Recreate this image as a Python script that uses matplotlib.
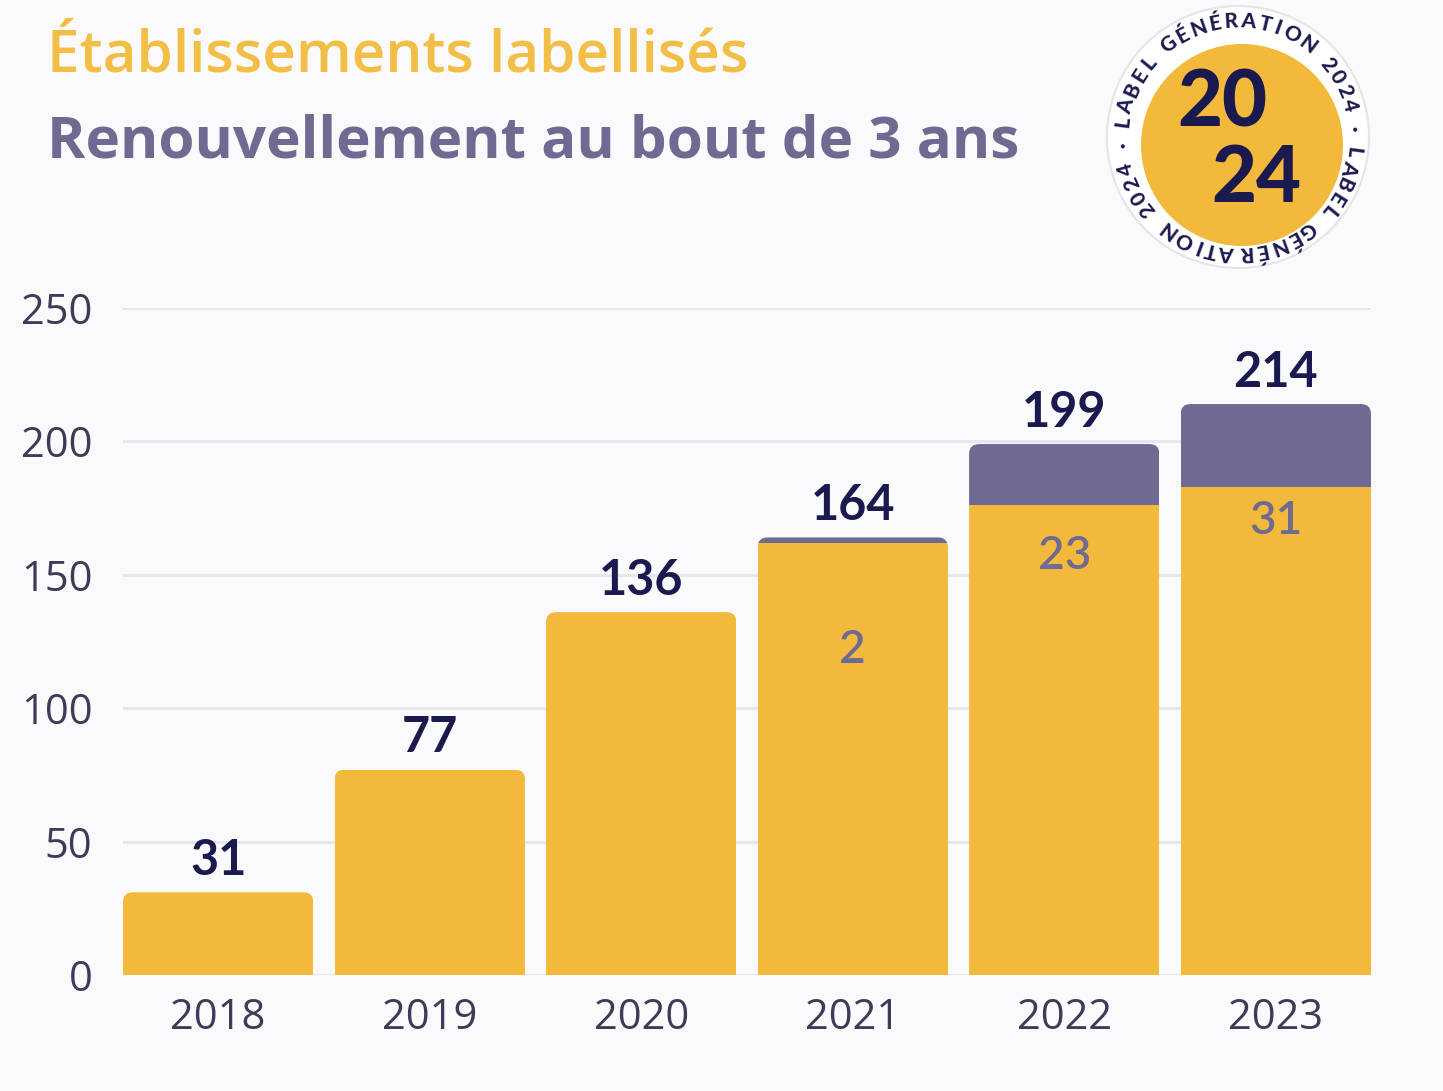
import numpy as np
import matplotlib
matplotlib.use("Agg")
from matplotlib import pyplot as plt
from matplotlib.patches import FancyBboxPatch, Circle
from matplotlib.font_manager import FontProperties
from matplotlib.textpath import text_to_path

# données
annees = ["2018", "2019", "2020", "2021", "2022", "2023"]
totaux = [31, 77, 136, 164, 199, 214]
renouvellements = [0, 0, 0, 2, 23, 31]
nouveaux = [t - r for t, r in zip(totaux, renouvellements)]
# hauteur des étiquettes de renouvellement
pos_renouv = [None, None, None, 122, 157, 170]

JAUNE = "#F2B93B"
VIOLET = "#6E6A91"
MARINE = "#1B1A4E"
GRIS = "#3C3C58"
FOND = "#FAFAFC"

W, H = 1443, 1091
fig = plt.figure(figsize=(W / 100, H / 100), dpi=100, facecolor=FOND)

ax = fig.add_axes([123 / W, 116 / H, 1248 / W, 667 / H], facecolor=FOND)
x = np.arange(len(annees))
larg = 0.9

b1 = ax.bar(x, nouveaux, width=larg, color=JAUNE, zorder=2)
b2 = ax.bar(x, renouvellements, width=larg, bottom=nouveaux, color=VIOLET, zorder=2)

ax.set_xlim(-0.45, len(annees) - 0.55)
ax.set_ylim(0, 250)

# coins arrondis en haut des barres
r_x = 10 / 211.5
r_y = 10 / 2.67
for i in range(len(annees)):
    forme = FancyBboxPatch((x[i] - larg / 2, -2 * r_y), larg, totaux[i] + 2 * r_y,
                           boxstyle=f"round,pad=0,rounding_size={r_x}",
                           mutation_aspect=r_y / r_x,
                           facecolor="none", edgecolor="none",
                           transform=ax.transData)
    ax.add_patch(forme)
    b1[i].set_clip_path(forme)
    b2[i].set_clip_path(forme)

ax.set_yticks([0, 50, 100, 150, 200, 250])
ax.yaxis.grid(True, color="#E6E6EC", linewidth=2.2, zorder=0)
ax.set_axisbelow(True)
for s in ax.spines.values():
    s.set_visible(False)
ax.tick_params(length=0)
ax.tick_params(axis="y", pad=22, labelsize=30, labelcolor=GRIS)
ax.tick_params(axis="x", pad=16, labelsize=30, labelcolor=GRIS)
ax.set_xticks(x)
ax.set_xticklabels(annees)
for lab in ax.get_xticklabels() + ax.get_yticklabels():
    lab.set_family("Open Sans")

for i in range(len(annees)):
    ax.text(x[i], totaux[i] + 12, str(totaux[i]), ha="center", va="center",
            fontsize=35, fontweight="bold", color=MARINE, family="Lato", clip_on=False)
    if pos_renouv[i] is not None:
        ax.text(x[i], pos_renouv[i], str(renouvellements[i]), ha="center", va="center",
                fontsize=33, color=VIOLET, family="Lato", fontweight="semibold", zorder=3)

# titres
fig.text(47 / W, 1 - 72 / H, "Établissements labellisés", fontsize=42,
         color="#F2BE45", family="Open Sans", fontweight="semibold", va="baseline")
fig.text(47 / W, 1 - 157 / H, "Renouvellement au bout de 3 ans", fontsize=42,
         color=VIOLET, family="Open Sans", fontweight="bold", va="baseline")

# logo Label Génération 2024
cx, cy, R = 1238, 137, 135
lg = fig.add_axes([(cx - R) / W, (H - cy - R) / H, 2 * R / W, 2 * R / H])
lg.set_xlim(-R, R)
lg.set_ylim(-R, R)
lg.set_aspect("equal")
lg.axis("off")
lg.add_patch(Circle((0, 0), 131, facecolor="white", edgecolor="#E4E4EA", linewidth=1.5))
lg.add_patch(Circle((4, -8), 101, facecolor=JAUNE, edgecolor="none"))

anneau = "LABEL GÉNÉRATION 2024 · LABEL GÉNÉRATION 2024 · "
fp = FontProperties(family="Lato", weight="black")
largeurs = []
for c in anneau:
    if c == " ":
        largeurs.append(6.0)
    else:
        largeurs.append(text_to_path.get_text_width_height_descent(c, fp, ismath=False)[0] + 2.5)
largeurs = np.array(largeurs)
angles = 176 - (np.cumsum(largeurs) - largeurs / 2) / largeurs.sum() * 360
for c, a in zip(anneau, angles):
    if c == " ":
        continue
    ang = np.deg2rad(a)
    lg.text(116 * np.cos(ang), 116 * np.sin(ang), c, ha="center", va="center",
            rotation=a - 90, fontsize=15, fontweight="black",
            color=MARINE, family="Lato", rotation_mode="anchor")
lg.text(-16, 33, "20", ha="center", va="center", fontsize=56, fontweight="black",
        color=MARINE, family="Lato")
lg.text(18, -42, "24", ha="center", va="center", fontsize=56, fontweight="black",
        color=MARINE, family="Lato")

fig.savefig("out.png", dpi=100, facecolor=FOND)
